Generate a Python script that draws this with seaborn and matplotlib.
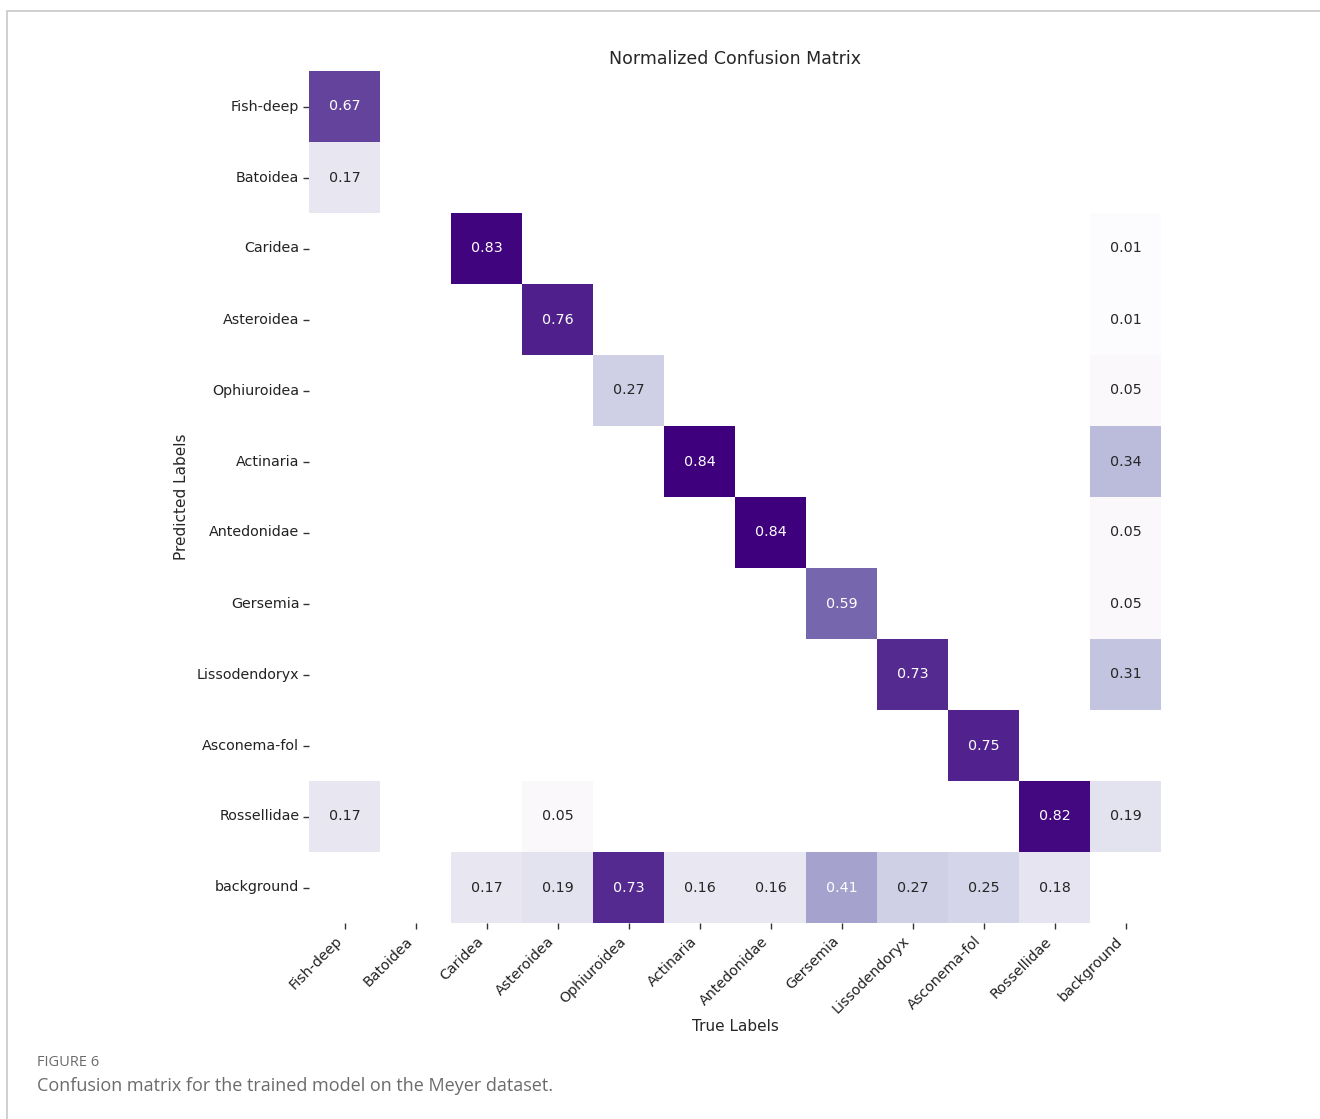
import numpy as np
import pandas as pd
import matplotlib
matplotlib.use("Agg")
import matplotlib.pyplot as plt
import seaborn as sns
from matplotlib.patches import Rectangle

# Class names (rows = predicted, columns = true)
classes = ["Fish-deep", "Batoidea", "Caridea", "Asteroidea", "Ophiuroidea",
           "Actinaria", "Antedonidae", "Gersemia", "Lissodendoryx",
           "Asconema-fol", "Rossellidae", "background"]

# Non-zero normalized entries per predicted row: (true class index, value)
row_fish_deep = [(0, 0.67)]
row_batoidea = [(0, 0.17)]
row_caridea = [(2, 0.83), (11, 0.01)]
row_asteroidea = [(3, 0.76), (11, 0.01)]
row_ophiuroidea = [(4, 0.27), (11, 0.05)]
row_actinaria = [(5, 0.84), (11, 0.34)]
row_antedonidae = [(6, 0.84), (11, 0.05)]
row_gersemia = [(7, 0.59), (11, 0.05)]
row_lissodendoryx = [(8, 0.73), (11, 0.31)]
row_asconema = [(9, 0.75)]
row_rossellidae = [(0, 0.17), (3, 0.05), (10, 0.82), (11, 0.19)]
row_background = [(2, 0.17), (3, 0.19), (4, 0.73), (5, 0.16), (6, 0.16),
                  (7, 0.41), (8, 0.27), (9, 0.25), (10, 0.18)]

rows = [row_fish_deep, row_batoidea, row_caridea, row_asteroidea,
        row_ophiuroidea, row_actinaria, row_antedonidae, row_gersemia,
        row_lissodendoryx, row_asconema, row_rossellidae, row_background]

n = len(classes)
cm = np.zeros((n, n))
for i, entries in enumerate(rows):
    for j, v in entries:
        cm[i, j] = v
df = pd.DataFrame(cm, index=classes, columns=classes)

sns.set_style("ticks")
plt.rcParams["font.family"] = ["DejaVu Sans"]

fig = plt.figure(figsize=(13.2, 11.19), dpi=100)
ax = fig.add_axes([309 / 1320, 1 - 923 / 1119, 852 / 1320, 852 / 1119])

sns.heatmap(df, ax=ax, cmap="Purples", vmin=0.03, vmax=cm.max(),
            annot=True, fmt=".2f", mask=(cm == 0), cbar=False,
            annot_kws={"fontsize": 10.3}, square=False)

ax.set_title("Normalized Confusion Matrix", fontsize=12.5, pad=5)
ax.set_xlabel("True Labels", fontsize=11)
ax.set_ylabel("Predicted Labels", fontsize=11)
ax.xaxis.set_label_coords(0.5, -0.113)
ax.yaxis.set_label_coords(-0.141, 0.5)
ax.set_xticklabels(classes, rotation=45, ha="right", fontsize=10.3)
ax.set_yticklabels(classes, rotation=0, fontsize=10.3)
ax.tick_params(axis="both", length=4, width=1, color="#333333",
               labelcolor="#222222")
ax.tick_params(axis="x", pad=4)
ax.tick_params(axis="y", pad=3)
for s in ax.spines.values():
    s.set_visible(False)

# Page frame and caption
fig.patches.append(Rectangle((7 / 1320, -0.05), 1.1, (1119 - 11) / 1119 + 0.05,
                             transform=fig.transFigure, fill=False,
                             edgecolor="#c8c8c8", linewidth=1.2))
fig.text(37 / 1320, 1 - 1063 / 1119, "FIGURE 6", fontsize=10.5,
         color="#6b6b6b", va="center", family="Open Sans")
fig.text(37 / 1320, 1 - 1086 / 1119,
         "Confusion matrix for the trained model on the Meyer dataset.",
         fontsize=13.0, color="#6b6b6b", va="center", family="Open Sans")

fig.savefig("out.png", dpi=100)
